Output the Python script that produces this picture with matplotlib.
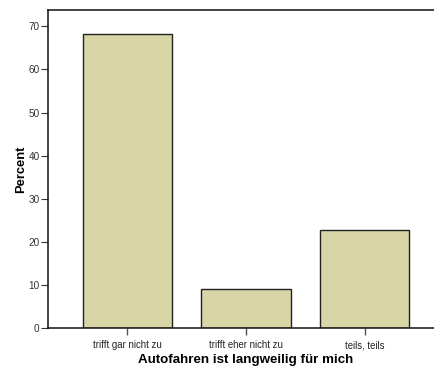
import matplotlib
matplotlib.use("Agg")
import matplotlib.pyplot as plt

categories = ["trifft gar nicht zu", "trifft eher nicht zu", "teils, teils"]
percent = [68.2, 9.1, 22.7]
y_ticks = [0, 10, 20, 30, 40, 50, 60, 70]

plt.rcParams["font.family"] = ["Liberation Sans", "DejaVu Sans"]

fig = plt.figure(figsize=(4.34, 3.67), dpi=100)
ax = fig.add_axes([48 / 434, 39 / 367, 396 / 434, 318 / 367])

x = list(range(len(categories)))
ax.bar(x, percent, width=0.75, color="#D8D6A6", edgecolor="#222222", linewidth=1.0, zorder=2)

ax.set_xlim(-0.667, 2.667)
ax.set_ylim(0, 73.8)
ax.set_yticks(y_ticks)
ax.set_xticks(x)
ax.set_xticklabels(categories)

for side in ("left", "bottom", "top"):
    ax.spines[side].set_linewidth(1.1)
    ax.spines[side].set_color("#111111")
ax.spines["right"].set_visible(False)

ax.tick_params(axis="y", direction="out", length=5, width=0.8, color="#333333",
               labelsize=7.2, labelcolor="#333333", pad=1)
ax.tick_params(axis="x", direction="out", length=5, width=1.0, color="#555555",
               labelsize=6.9, labelcolor="#222222", pad=4)

ax.set_xlabel("Autofahren ist langweilig für mich", fontsize=9.6, fontweight="bold", labelpad=2.5)
ax.set_ylabel("Percent", fontsize=9.3, fontweight="bold", labelpad=1)

fig.savefig("out.png", dpi=100)
